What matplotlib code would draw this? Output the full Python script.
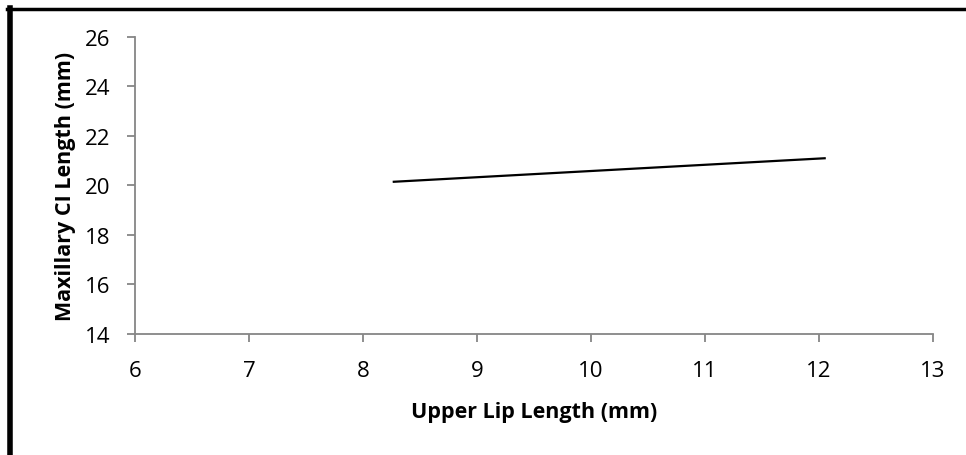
import matplotlib
matplotlib.use("Agg")
import matplotlib.pyplot as plt
from matplotlib.lines import Line2D

# Trend line endpoints
lip_length = [8.27, 12.05]
ci_length = [20.15, 21.1]

x_ticks = [6, 7, 8, 9, 10, 11, 12, 13]
y_ticks = [14, 16, 18, 20, 22, 24, 26]

plt.rcParams["font.family"] = ["Open Sans", "DejaVu Sans"]

fig = plt.figure(figsize=(9.66, 4.56), dpi=100)
ax = fig.add_axes([0.1398, 0.2654, 0.826, 0.6513])

ax.plot(lip_length, ci_length, color="black", linewidth=1.6)

ax.set_xlim(6, 13)
ax.set_ylim(14, 26)
ax.set_xticks(x_ticks)
ax.set_yticks(y_ticks)

for side in ["top", "right"]:
    ax.spines[side].set_visible(False)
for side in ["left", "bottom"]:
    ax.spines[side].set_color("#868686")
    ax.spines[side].set_linewidth(1.3)

ax.tick_params(direction="out", length=6, width=1.3, color="#868686",
               labelsize=16, pad=12)
ax.tick_params(axis="x", pad=13)

ax.set_xlabel("Upper Lip Length (mm)", fontsize=15.5, fontweight="bold", labelpad=14)
ax.set_ylabel("Maxillary CI Length (mm)", fontsize=15.5, fontweight="bold", labelpad=6)

# black frame on the left and top edges
fig.add_artist(Line2D([9.5 / 966, 9.5 / 966], [0, 1 - 9 / 456],
                      transform=fig.transFigure, color="black", linewidth=4))
fig.add_artist(Line2D([7 / 966, 1], [1 - 10 / 456, 1 - 10 / 456],
                      transform=fig.transFigure, color="black", linewidth=2.5))

fig.savefig("out.png", dpi=100)
